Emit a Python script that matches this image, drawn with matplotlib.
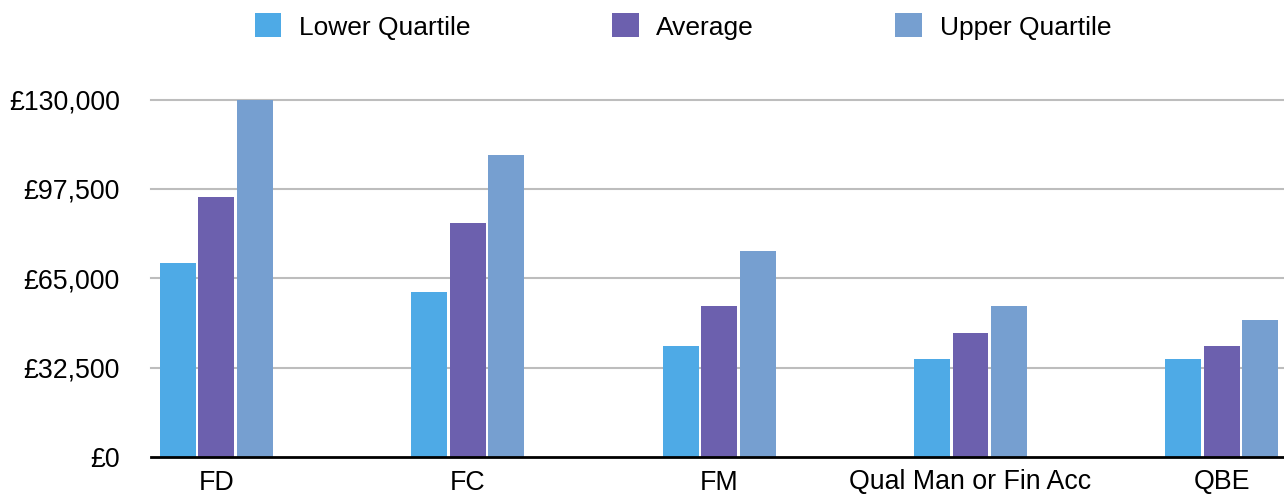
import matplotlib
matplotlib.use("Agg")
import matplotlib.pyplot as plt
import numpy as np
from matplotlib.ticker import FuncFormatter

categories = ["FD", "FC", "FM", "Qual Man or Fin Acc", "QBE"]
series_names = ["Lower Quartile", "Average", "Upper Quartile"]
lower_quartile = [70500, 60000, 40500, 35500, 35500]
average = [94500, 85000, 55000, 45000, 40500]
upper_quartile = [130000, 110000, 75000, 55000, 50000]
y_ticks = [0, 32500, 65000, 97500, 130000]

colors = ["#4eaae6", "#6c60ae", "#769fd0"]

plt.rcParams["font.family"] = ["Liberation Sans", "DejaVu Sans"]

W, H = 1284, 495
fig = plt.figure(figsize=(W / 100, H / 100), dpi=100)
left_px, right_px, top_px, bottom_px = 151, 1284, 99.5, 457
ax = fig.add_axes([left_px / W, 1 - bottom_px / H,
                   (right_px - left_px) / W, (bottom_px - top_px) / H])

x = np.arange(len(categories))
width = 0.143
step = 0.153
for i, (name, vals) in enumerate(zip(series_names, [lower_quartile, average, upper_quartile])):
    ax.bar(x + (i - 1) * step, vals, width=width, color=colors[i], label=name, zorder=3)

ax.set_xlim(-0.26, 4.247)
ax.set_ylim(0, 130000)
ax.set_yticks(y_ticks)
ax.yaxis.set_major_formatter(FuncFormatter(lambda v, p: "£{:,.0f}".format(v)))
ax.set_xticks(x)
ax.set_xticklabels(categories)

for t in y_ticks[1:]:
    ax.axhline(t, color="#bdbdbd", linewidth=1.5, zorder=1, clip_on=False)

for s in ["top", "right", "left"]:
    ax.spines[s].set_visible(False)
ax.spines["bottom"].set_color("black")
ax.spines["bottom"].set_linewidth(2.0)
ax.spines["bottom"].set_zorder(4)

ax.tick_params(axis="y", length=0, pad=22.5, labelsize=19.3, colors="black")
ax.tick_params(axis="x", length=0, pad=9, labelsize=19.3, colors="black")

fig.legend(loc="center", bbox_to_anchor=(683 / W, 1 - 26.5 / H), ncol=3,
           frameon=False, fontsize=19, handlelength=1.02, handleheight=1.02,
           handletextpad=0.67, columnspacing=5.35, borderpad=0, borderaxespad=0)

fig.savefig("out.png", dpi=100)
